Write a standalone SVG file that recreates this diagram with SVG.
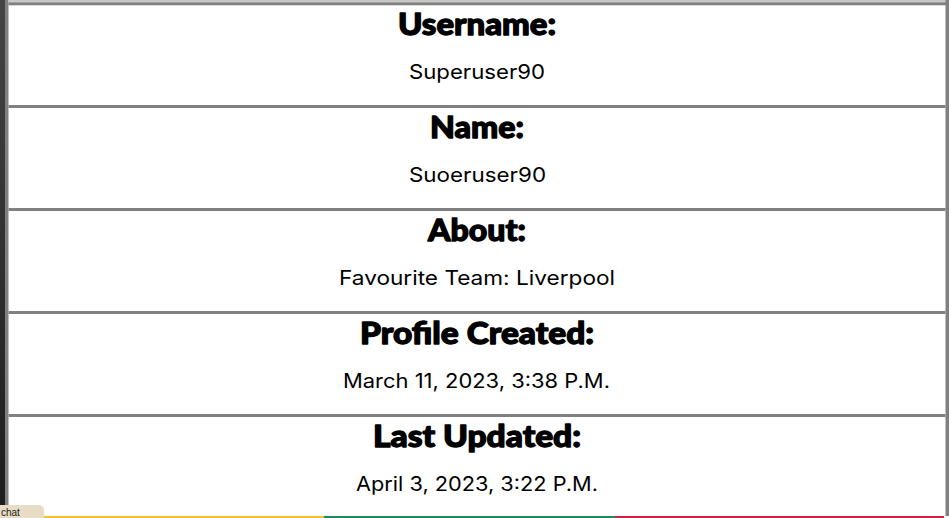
<svg xmlns="http://www.w3.org/2000/svg" width="949" height="518" viewBox="0 0 949 518">
<defs>
<linearGradient id="lg" x1="0" y1="0" x2="0" y2="1">
<stop offset="0" stop-color="#444444"/>
<stop offset="1" stop-color="#1c1c1c"/>
</linearGradient>
<style>
.h{font-family:Lato,"Liberation Sans",sans-serif;font-weight:900;font-size:31px;fill:#000;stroke:#000;stroke-width:1.3px;stroke-linejoin:round;text-anchor:middle}
.v{font-family:Inter,"Liberation Sans",sans-serif;font-size:20px;fill:#000;text-anchor:middle}
.sep{fill:#808080}
</style>
</defs>
<rect width="949" height="518" fill="#ffffff"/>
<rect x="0" y="0" width="5" height="518" fill="url(#lg)"/>
<rect x="5" y="0" width="3.5" height="518" fill="#808080"/>
<rect x="8.5" y="0" width="940.5" height="2.3" fill="#c8c8c8"/>
<rect x="945.5" y="0" width="3.5" height="516" fill="#808080"/>
<g id="separators">
<rect class="sep" x="8.5" y="2.3" width="940.5" height="3"/>
<rect class="sep" x="8.5" y="105" width="937" height="3"/>
<rect class="sep" x="8.5" y="208" width="937" height="3"/>
<rect class="sep" x="8.5" y="311" width="937" height="3"/>
<rect class="sep" x="8.5" y="414" width="937" height="3"/>
</g>
<g id="row-username">
<text class="h" x="477" y="35" textLength="158" lengthAdjust="spacingAndGlyphs">Username:</text>
<text class="v" x="477" y="79" textLength="136" lengthAdjust="spacingAndGlyphs">Superuser90</text>
</g>
<g id="row-name">
<text class="h" x="477" y="138" textLength="94" lengthAdjust="spacingAndGlyphs">Name:</text>
<text class="v" x="477.5" y="182" textLength="137" lengthAdjust="spacingAndGlyphs">Suoeruser90</text>
</g>
<g id="row-about">
<text class="h" x="477" y="241" textLength="98" lengthAdjust="spacingAndGlyphs">About:</text>
<text class="v" x="477" y="285" textLength="276" lengthAdjust="spacingAndGlyphs">Favourite Team: Liverpool</text>
</g>
<g id="row-created">
<text class="h" x="477" y="344" textLength="234" lengthAdjust="spacingAndGlyphs">Profile Created:</text>
<text class="v" x="476.5" y="388" textLength="267" lengthAdjust="spacingAndGlyphs">March 11, 2023, 3:38 P.M.</text>
</g>
<g id="row-updated">
<text class="h" x="477" y="447" textLength="208" lengthAdjust="spacingAndGlyphs">Last Updated:</text>
<text class="v" x="477" y="491" textLength="242" lengthAdjust="spacingAndGlyphs">April 3, 2023, 3:22 P.M.</text>
</g>
<g id="bottom-bar">
<rect x="44" y="516" width="280" height="2" fill="#f2c12e"/>
<rect x="324" y="516" width="291" height="2" fill="#1e8a5a"/>
<rect x="615" y="516" width="329" height="2" fill="#d21e44"/>
</g>
<g id="tooltip">
<rect x="-6" y="505" width="50" height="20" rx="5" fill="#e8dcc4"/>
<text x="1" y="516" style="font-family:'Liberation Sans',sans-serif;font-size:10px;fill:#222">chat</text>
</g>
</svg>
